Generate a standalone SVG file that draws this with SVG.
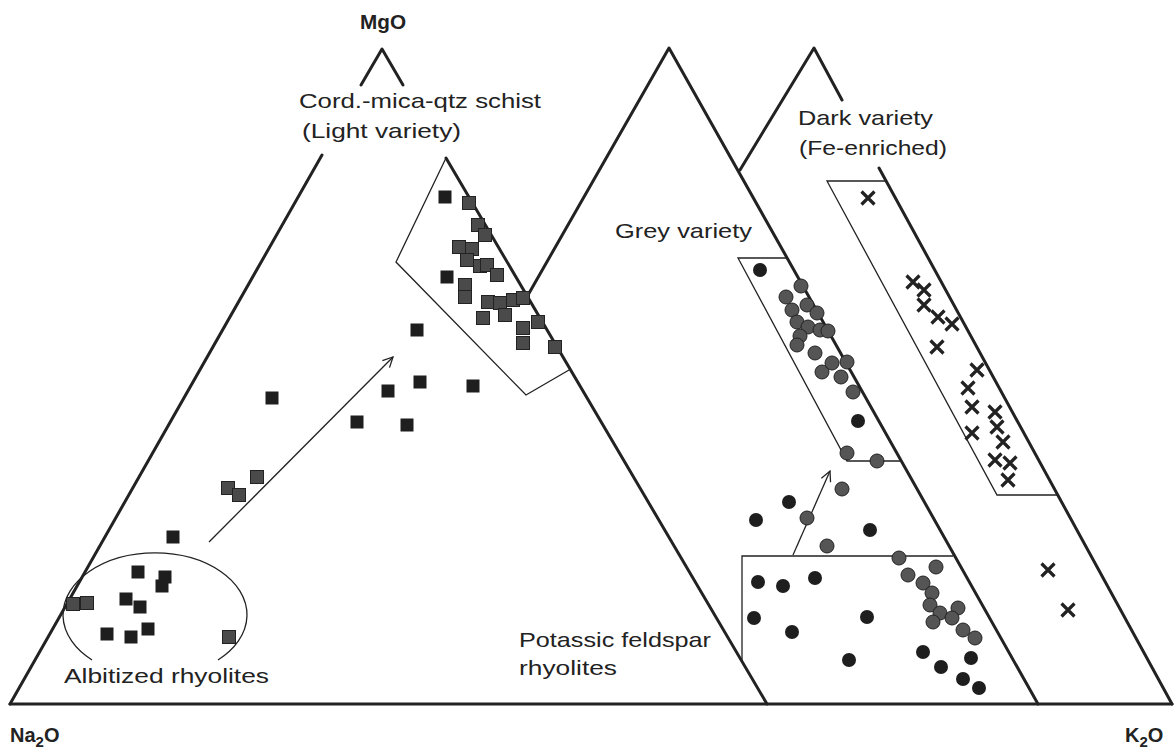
<svg xmlns="http://www.w3.org/2000/svg" xmlns:xlink="http://www.w3.org/1999/xlink" width="1175" height="750" viewBox="0 0 1175 750">
<style>
.tri{stroke:#222;stroke-width:3;fill:none;stroke-linecap:round;stroke-linejoin:round}
.thin{stroke:#222;stroke-width:1.3;fill:none}
.sq{fill:#1e1e1e}
.gsq{fill:#4a4a4a;stroke:#222;stroke-width:1}
.dot{fill:#1e1e1e}
.gdot{fill:#555;stroke:#222;stroke-width:1}
.x{stroke:#222;stroke-width:3.2;fill:none}
.lbl{font-family:"Liberation Sans",Arial,sans-serif;font-size:21px;fill:#222}
.ax{font-family:"Liberation Sans",Arial,sans-serif;font-size:20px;font-weight:bold;fill:#222}
</style>
<defs>
<rect id="s" x="-6.5" y="-6.5" width="13" height="13"/>
<circle id="c" r="7"/>
<path id="x" d="M-6.5,-6.5L6.5,6.5M6.5,-6.5L-6.5,6.5"/>
<marker id="oa" viewBox="0 0 12 12" refX="11" refY="6" markerWidth="12" markerHeight="12" markerUnits="userSpaceOnUse" orient="auto">
<path d="M1,1L11,6L1,11" fill="none" stroke="#222" stroke-width="1.3"/>
</marker>
</defs>
<rect width="1175" height="750" fill="#fff"/>

<g id="triangles">
<path class="tri" d="M10,704L322,155"/>
<path class="tri" d="M361,85L382,49L403,85"/>
<path class="tri" d="M446,158L767,704"/>
<path class="tri" d="M528,295L669,48L1038,704"/>
<path class="tri" d="M740,170L814,48L842,100"/>
<path class="tri" d="M879,168L1172,704"/>
<path class="tri" d="M10,704L1172,704"/>
</g>

<g id="fields">
<path id="schist-field" class="thin" d="M446,158L396,262L526,395L569,370"/>
<path id="grey-field" class="thin" d="M787,258L738,258L847,461L901,461"/>
<path id="dark-field" class="thin" d="M886,181L827,181L997,495L1057,495"/>
<path id="kfs-field" class="thin" d="M953,556L742,556L742,662"/>
<path id="albite-field" class="thin" d="M92,660A92,62 0 1 1 218,660"/>
</g>

<g id="connectors">
<path class="thin" d="M209,542L393,357" marker-end="url(#oa)"/>
<path class="thin" d="M793,555L830,471" marker-end="url(#oa)"/>
</g>

<g id="squares">
<use href="#s" class="sq" x="445" y="197"/>
<use href="#s" class="gsq" x="469" y="203"/>
<use href="#s" class="gsq" x="478" y="225"/>
<use href="#s" class="gsq" x="485" y="235"/>
<use href="#s" class="gsq" x="459" y="247"/>
<use href="#s" class="gsq" x="472" y="249"/>
<use href="#s" class="gsq" x="467" y="260"/>
<use href="#s" class="gsq" x="480" y="266"/>
<use href="#s" class="gsq" x="487" y="265"/>
<use href="#s" class="gsq" x="497" y="275"/>
<use href="#s" class="sq" x="447" y="277"/>
<use href="#s" class="gsq" x="465" y="285"/>
<use href="#s" class="gsq" x="465" y="297"/>
<use href="#s" class="gsq" x="488" y="302"/>
<use href="#s" class="gsq" x="500" y="303"/>
<use href="#s" class="gsq" x="513" y="300"/>
<use href="#s" class="gsq" x="523" y="298"/>
<use href="#s" class="gsq" x="505" y="315"/>
<use href="#s" class="gsq" x="483" y="318"/>
<use href="#s" class="gsq" x="523" y="328"/>
<use href="#s" class="gsq" x="538" y="322"/>
<use href="#s" class="gsq" x="523" y="343"/>
<use href="#s" class="gsq" x="555" y="347"/>
<use href="#s" class="sq" x="417" y="330"/>
<use href="#s" class="sq" x="272" y="398"/>
<use href="#s" class="sq" x="420" y="382"/>
<use href="#s" class="sq" x="388" y="391"/>
<use href="#s" class="sq" x="473" y="386"/>
<use href="#s" class="sq" x="357" y="422"/>
<use href="#s" class="sq" x="407" y="425"/>
<use href="#s" class="gsq" x="257" y="477"/>
<use href="#s" class="gsq" x="228" y="488"/>
<use href="#s" class="gsq" x="239" y="495"/>
<use href="#s" class="sq" x="173" y="537"/>
<use href="#s" class="sq" x="138" y="572"/>
<use href="#s" class="sq" x="165" y="577"/>
<use href="#s" class="sq" x="162" y="586"/>
<use href="#s" class="sq" x="126" y="599"/>
<use href="#s" class="sq" x="140" y="607"/>
<use href="#s" class="gsq" x="73" y="604"/>
<use href="#s" class="gsq" x="87" y="603"/>
<use href="#s" class="sq" x="107" y="634"/>
<use href="#s" class="sq" x="131" y="637"/>
<use href="#s" class="sq" x="148" y="629"/>
<use href="#s" class="gsq" x="229" y="637"/>
</g>

<g id="circles">
<use href="#c" class="dot" x="760" y="270"/>
<use href="#c" class="gdot" x="801" y="286"/>
<use href="#c" class="gdot" x="786" y="297"/>
<use href="#c" class="gdot" x="792" y="310"/>
<use href="#c" class="gdot" x="807" y="305"/>
<use href="#c" class="gdot" x="817" y="313"/>
<use href="#c" class="gdot" x="797" y="322"/>
<use href="#c" class="gdot" x="808" y="327"/>
<use href="#c" class="gdot" x="820" y="330"/>
<use href="#c" class="gdot" x="828" y="331"/>
<use href="#c" class="gdot" x="800" y="336"/>
<use href="#c" class="gdot" x="797" y="345"/>
<use href="#c" class="gdot" x="815" y="353"/>
<use href="#c" class="gdot" x="822" y="372"/>
<use href="#c" class="gdot" x="832" y="363"/>
<use href="#c" class="gdot" x="847" y="362"/>
<use href="#c" class="gdot" x="841" y="377"/>
<use href="#c" class="gdot" x="853" y="392"/>
<use href="#c" class="dot" x="858" y="421"/>
<use href="#c" class="gdot" x="847" y="453"/>
<use href="#c" class="gdot" x="877" y="461"/>
<use href="#c" class="gdot" x="842" y="489"/>
<use href="#c" class="dot" x="789" y="502"/>
<use href="#c" class="dot" x="756" y="520"/>
<use href="#c" class="gdot" x="807" y="518"/>
<use href="#c" class="dot" x="870" y="530"/>
<use href="#c" class="gdot" x="827" y="546"/>
<use href="#c" class="gdot" x="899" y="558"/>
<use href="#c" class="gdot" x="936" y="567"/>
<use href="#c" class="gdot" x="908" y="575"/>
<use href="#c" class="dot" x="758" y="582"/>
<use href="#c" class="dot" x="783" y="586"/>
<use href="#c" class="dot" x="815" y="578"/>
<use href="#c" class="gdot" x="923" y="583"/>
<use href="#c" class="gdot" x="932" y="593"/>
<use href="#c" class="gdot" x="930" y="605"/>
<use href="#c" class="gdot" x="940" y="613"/>
<use href="#c" class="gdot" x="958" y="608"/>
<use href="#c" class="gdot" x="952" y="618"/>
<use href="#c" class="gdot" x="933" y="622"/>
<use href="#c" class="gdot" x="963" y="630"/>
<use href="#c" class="gdot" x="975" y="638"/>
<use href="#c" class="dot" x="754" y="618"/>
<use href="#c" class="dot" x="867" y="617"/>
<use href="#c" class="dot" x="792" y="632"/>
<use href="#c" class="dot" x="849" y="660"/>
<use href="#c" class="dot" x="923" y="652"/>
<use href="#c" class="dot" x="971" y="658"/>
<use href="#c" class="dot" x="941" y="667"/>
<use href="#c" class="dot" x="963" y="679"/>
<use href="#c" class="dot" x="979" y="688"/>
</g>

<g id="crosses">
<use href="#x" class="x" x="868" y="198"/>
<use href="#x" class="x" x="913" y="282"/>
<use href="#x" class="x" x="924" y="290"/>
<use href="#x" class="x" x="924" y="305"/>
<use href="#x" class="x" x="938" y="317"/>
<use href="#x" class="x" x="952" y="324"/>
<use href="#x" class="x" x="937" y="347"/>
<use href="#x" class="x" x="977" y="370"/>
<use href="#x" class="x" x="968" y="388"/>
<use href="#x" class="x" x="972" y="407"/>
<use href="#x" class="x" x="972" y="433"/>
<use href="#x" class="x" x="995" y="412"/>
<use href="#x" class="x" x="997" y="427"/>
<use href="#x" class="x" x="1003" y="442"/>
<use href="#x" class="x" x="995" y="460"/>
<use href="#x" class="x" x="1010" y="463"/>
<use href="#x" class="x" x="1008" y="480"/>
<use href="#x" class="x" x="1048" y="570"/>
<use href="#x" class="x" x="1068" y="610"/>
</g>

<g id="labels">
<text id="mgo" class="ax" x="360" y="29" textLength="46" lengthAdjust="spacingAndGlyphs">MgO</text>
<text id="na2o" class="ax" x="10" y="742">Na<tspan font-size="15" dy="5">2</tspan><tspan dy="-5">O</tspan></text>
<text id="k2o" class="ax" x="1125" y="742">K<tspan font-size="15" dy="5">2</tspan><tspan dy="-5">O</tspan></text>
<text class="lbl" x="299" y="108" textLength="242" lengthAdjust="spacingAndGlyphs">Cord.-mica-qtz schist</text>
<text class="lbl" x="302" y="138" textLength="159" lengthAdjust="spacingAndGlyphs">(Light variety)</text>
<text class="lbl" x="798" y="125" textLength="135" lengthAdjust="spacingAndGlyphs">Dark variety</text>
<text class="lbl" x="799" y="155" textLength="148" lengthAdjust="spacingAndGlyphs">(Fe-enriched)</text>
<text class="lbl" x="615" y="238" textLength="137" lengthAdjust="spacingAndGlyphs">Grey variety</text>
<text class="lbl" x="519" y="647" textLength="192" lengthAdjust="spacingAndGlyphs">Potassic feldspar</text>
<text class="lbl" x="519" y="675" textLength="98" lengthAdjust="spacingAndGlyphs">rhyolites</text>
<text class="lbl" x="64" y="683" textLength="205" lengthAdjust="spacingAndGlyphs">Albitized rhyolites</text>
</g>
</svg>
